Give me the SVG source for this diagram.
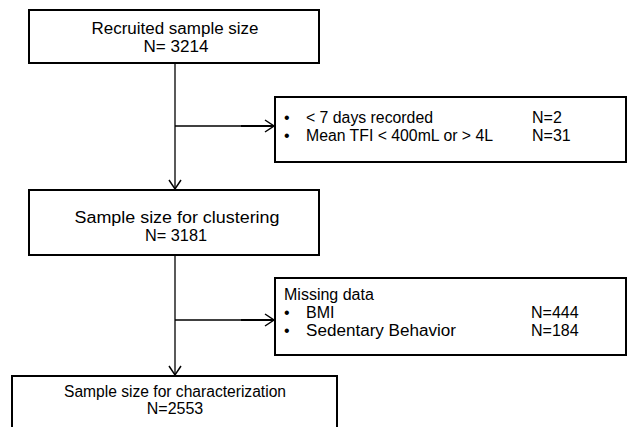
<svg xmlns="http://www.w3.org/2000/svg" width="628" height="427" viewBox="0 0 628 427">
<defs>
<style>
.box{fill:#fff;stroke:#000;stroke-width:2}
.ln{fill:none;stroke:#000;stroke-width:1.3}
.ah{fill:none;stroke:#000;stroke-width:1.5}
text{font-family:"Liberation Sans",Arial,sans-serif;font-size:16px;fill:#000}
.c{text-anchor:middle}
</style>
</defs>
<rect width="628" height="427" fill="#fff"/>
<g id="connectors">
<line class="ln" x1="175" y1="63" x2="175" y2="189"/>
<polyline class="ah" points="169,180 175,189 181,180"/>
<line class="ln" x1="175" y1="126" x2="241" y2="126"/>
<line x1="241" y1="126" x2="274" y2="126" stroke="#000" stroke-width="2"/>
<polyline class="ah" points="265,120 274,126 265,132"/>
<line class="ln" x1="175" y1="255" x2="175" y2="375"/>
<polyline class="ah" points="169,366 175,375 181,366"/>
<line class="ln" x1="175" y1="320" x2="241" y2="320"/>
<line x1="241" y1="320" x2="274" y2="320" stroke="#000" stroke-width="2"/>
<polyline class="ah" points="265,314 274,320 265,326"/>
</g>
<g id="recruited">
<rect class="box" x="29" y="10" width="290" height="53"/>
<text class="c" x="175" y="34" textLength="167" lengthAdjust="spacingAndGlyphs">Recruited sample size</text>
<text class="c" x="176" y="52" textLength="65" lengthAdjust="spacingAndGlyphs">N= 3214</text>
</g>
<g id="excluded1">
<rect class="box" x="275" y="97" width="351" height="65"/>
<text x="284" y="123">•</text>
<text x="306" y="123" textLength="127" lengthAdjust="spacingAndGlyphs">&lt; 7 days recorded</text>
<text x="532" y="123">N=2</text>
<text x="284" y="141">•</text>
<text x="306" y="141" textLength="187" lengthAdjust="spacingAndGlyphs">Mean TFI &lt; 400mL or &gt; 4L</text>
<text x="532" y="141">N=31</text>
</g>
<g id="clustering">
<rect class="box" x="29" y="190" width="290" height="65"/>
<text class="c" x="177" y="223" textLength="205" lengthAdjust="spacingAndGlyphs">Sample size for clustering</text>
<text class="c" x="176" y="241" textLength="62" lengthAdjust="spacingAndGlyphs">N= 3181</text>
</g>
<g id="missing">
<rect class="box" x="275" y="278" width="351" height="77"/>
<text x="284" y="300">Missing data</text>
<text x="284" y="318">•</text>
<text x="306" y="318">BMI</text>
<text x="531" y="318">N=444</text>
<text x="284" y="336">•</text>
<text x="306" y="336" textLength="150" lengthAdjust="spacingAndGlyphs">Sedentary Behavior</text>
<text x="531" y="336">N=184</text>
</g>
<g id="characterization">
<rect class="box" x="12" y="376" width="325" height="60"/>
<text class="c" x="175" y="397" textLength="222" lengthAdjust="spacingAndGlyphs">Sample size for characterization</text>
<text class="c" x="175" y="414">N=2553</text>
</g>
</svg>
